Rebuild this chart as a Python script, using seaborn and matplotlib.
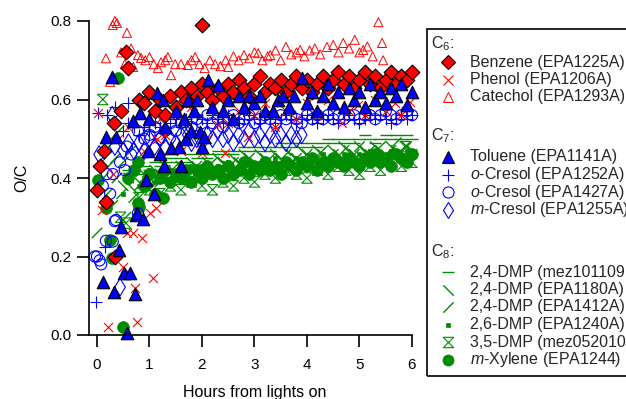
import matplotlib
matplotlib.use("Agg")
import matplotlib.pyplot as plt
from matplotlib.path import Path
from matplotlib.lines import Line2D
from matplotlib.patches import Rectangle
import pandas as pd
import seaborn as sns

# ---- data (hours from lights on, O/C) ----

benzene_t = [0.0, 0.05, 0.13, 0.18, 0.33, 0.34, 0.45, 0.55, 0.6,
             0.8, 0.9, 1.0, 1.1, 1.2, 1.3, 1.4, 1.5, 1.6, 1.7, 1.8, 1.9,
             2.0, 2.1, 2.2, 2.3, 2.4, 2.5, 2.6, 2.7, 2.8, 2.9,
             3.0, 3.1, 3.2, 3.3, 3.4, 3.5, 3.6, 3.7, 3.8, 3.9,
             4.0, 4.1, 4.2, 4.3, 4.4, 4.5, 4.6, 4.7, 4.8, 4.9,
             5.0, 5.1, 5.2, 5.3, 5.4, 5.5, 5.6, 5.7, 5.8, 5.9, 6.0, 2.0]
benzene_oc = [0.37, 0.43, 0.47, 0.34, 0.54, 0.20, 0.57, 0.72, 0.68,
              0.60, 0.59, 0.62, 0.57, 0.60, 0.56, 0.61, 0.58, 0.62, 0.60, 0.63, 0.61,
              0.64, 0.62, 0.60, 0.63, 0.61, 0.64, 0.62, 0.65, 0.63, 0.61,
              0.64, 0.66, 0.62, 0.64, 0.63, 0.65, 0.62, 0.64, 0.66, 0.63,
              0.65, 0.62, 0.64, 0.66, 0.63, 0.65, 0.67, 0.64, 0.66, 0.63,
              0.65, 0.67, 0.64, 0.66, 0.63, 0.65, 0.67, 0.64, 0.66, 0.65, 0.67, 0.79]

phenol_t = [0.02, 0.1, 0.21, 0.3, 0.4, 0.5, 0.57, 0.6, 0.69, 0.72, 0.76, 0.85, 0.9,
            1.01, 1.07, 1.12, 1.14, 1.2, 1.3, 1.5, 1.6, 1.8, 2.0, 2.1, 2.3, 2.44,
            2.5, 2.7, 2.88, 3.0, 3.2, 3.4, 3.6, 3.8, 4.0, 4.2, 4.4, 4.67, 4.8,
            4.97, 5.1, 5.3, 5.5, 5.68, 5.8, 5.96]
phenol_oc = [0.565, 0.318, 0.02, 0.41, 0.50, 0.173, 0.26, 0.53, 0.26, 0.12, 0.033, 0.247, 0.47,
             0.31, 0.145, 0.323, 0.50, 0.55, 0.51, 0.56, 0.47, 0.58, 0.464, 0.50, 0.535, 0.464,
             0.54, 0.57, 0.505, 0.56, 0.59, 0.53, 0.57, 0.55, 0.59, 0.56, 0.60, 0.54, 0.57,
             0.585, 0.56, 0.60, 0.57, 0.59, 0.56, 0.594]

catechol_t = [0.17, 0.25, 0.30, 0.34, 0.38, 0.46, 0.53, 0.57, 0.65, 0.69, 0.78, 0.84, 0.92,
              1.0, 1.08, 1.16, 1.22, 1.3, 1.35, 1.41, 1.49, 1.6, 1.73, 1.8, 1.87, 1.95,
              2.05, 2.15, 2.25, 2.35, 2.45, 2.5, 2.6, 2.7, 2.8, 2.9, 3.0, 3.07, 3.15,
              3.25, 3.3, 3.4, 3.5, 3.6, 3.7, 3.8, 3.87, 3.95, 4.05, 4.15, 4.25, 4.38,
              4.5, 4.6, 4.69, 4.8, 4.91, 5.0, 5.07, 5.15, 5.25, 5.36, 5.43, 5.45]
catechol_oc = [0.705, 0.645, 0.79, 0.80, 0.795, 0.72, 0.69, 0.77, 0.73, 0.683, 0.713, 0.706, 0.70,
               0.708, 0.69, 0.68, 0.695, 0.70, 0.708, 0.662, 0.69, 0.69, 0.688, 0.70, 0.708, 0.69,
               0.68, 0.70, 0.69, 0.685, 0.70, 0.683, 0.71, 0.70, 0.713, 0.705, 0.72, 0.718, 0.70,
               0.71, 0.713, 0.725, 0.70, 0.734, 0.715, 0.72, 0.726, 0.71, 0.725, 0.73, 0.715, 0.734,
               0.739, 0.72, 0.744, 0.73, 0.752, 0.72, 0.726, 0.735, 0.71, 0.797, 0.744, 0.70]

toluene_t = [0.11, 0.17, 0.28, 0.32, 0.36, 0.42, 0.46, 0.51, 0.57, 0.63, 0.69, 0.72, 0.74,
             0.77, 0.82, 0.87, 0.93, 0.97, 1.0, 1.09, 1.14, 1.2, 1.26, 1.28, 1.3, 1.41,
             1.5, 1.56, 1.6, 1.65, 1.7, 1.73, 1.8, 1.85, 1.9, 1.96, 2.0, 2.04, 2.12,
             2.2, 2.3, 2.4, 2.5, 2.6, 2.7, 2.8, 2.9, 3.0, 3.1, 3.2, 3.35, 3.45, 3.54,
             3.65, 3.75, 3.9, 4.0, 4.1, 4.2, 4.3, 4.4, 4.5, 4.6, 4.7, 4.8, 4.9, 5.0,
             5.1, 5.2, 5.3, 5.4, 5.5, 5.6, 5.7, 5.8, 5.9, 6.0]
toluene_oc = [0.135, 0.505, 0.657, 0.11, 0.505, 0.217, 0.275, 0.158, 0.005, 0.158, 0.545, 0.105, 0.306,
              0.31, 0.565, 0.295, 0.395, 0.47, 0.55, 0.36, 0.616, 0.46, 0.60, 0.43, 0.53, 0.476,
              0.57, 0.48, 0.43, 0.55, 0.50, 0.60, 0.52, 0.57, 0.60, 0.517, 0.48, 0.505, 0.65,
              0.58, 0.637, 0.57, 0.60, 0.55, 0.61, 0.58, 0.61, 0.59, 0.61, 0.57, 0.57, 0.60, 0.61,
              0.58, 0.61, 0.655, 0.59, 0.62, 0.57, 0.61, 0.64, 0.59, 0.62, 0.58, 0.63, 0.60, 0.62,
              0.58, 0.64, 0.60, 0.62, 0.59, 0.63, 0.61, 0.64, 0.585, 0.62]

ocresol1252_t = [-0.01, 0.02, 0.15, 0.2, 0.35, 0.59,
                 0.5, 0.6, 0.7, 0.8, 0.9, 1.0, 1.1, 1.2, 1.3, 1.4, 1.5, 1.6, 1.7, 1.8, 1.9,
                 2.0, 2.1, 2.2, 2.3, 2.4, 2.5, 2.6, 2.7, 2.8, 2.9,
                 3.0, 3.1, 3.2, 3.3, 3.4, 3.5, 3.6, 3.7, 3.8, 3.9,
                 4.0, 4.1, 4.2, 4.3, 4.4, 4.5, 4.6, 4.7, 4.8, 4.9,
                 5.0, 5.1, 5.2, 5.3, 5.4, 5.5, 5.6, 5.7, 5.8, 5.9, 6.0]
ocresol1252_oc = [0.083, 0.565, 0.225, 0.56, 0.58, 0.59,
                  0.52, 0.54, 0.53, 0.51, 0.53, 0.52, 0.54, 0.53, 0.55, 0.54, 0.55, 0.53, 0.55, 0.54, 0.56,
                  0.55, 0.54, 0.56, 0.55, 0.54, 0.56, 0.55, 0.54, 0.55, 0.56,
                  0.55, 0.54, 0.56, 0.55, 0.54, 0.55, 0.56, 0.55, 0.54, 0.55,
                  0.56, 0.55, 0.54, 0.55, 0.56, 0.55, 0.54, 0.55, 0.56, 0.55,
                  0.54, 0.55, 0.56, 0.55, 0.56, 0.55, 0.54, 0.55, 0.56, 0.55, 0.56]

ocresol1427_t = [-0.04, 0.0, 0.05, 0.08, 0.11, 0.17, 0.19, 0.25, 0.3, 0.3, 0.34, 0.36,
                 0.44, 0.53, 0.57, 0.65, 0.78, 0.78,
                 0.9, 1.0, 1.1, 1.2, 1.3, 1.4, 1.5, 1.6, 1.7, 1.8, 1.9,
                 2.0, 2.1, 2.2, 2.3, 2.4, 2.5, 2.6, 2.7, 2.8, 2.9,
                 3.0, 3.1, 3.2, 3.3, 3.4, 3.5, 3.6, 3.7, 3.8, 3.9,
                 4.0, 4.1, 4.2, 4.3, 4.4, 4.5, 4.6, 4.7, 4.8, 4.9,
                 5.0, 5.1, 5.2, 5.3, 5.4, 5.5, 5.6, 5.7, 5.8, 5.9, 6.0]
ocresol1427_oc = [0.20, 0.20, 0.19, 0.18, 0.38, 0.24, 0.41, 0.36, 0.238, 0.41, 0.29, 0.293,
                  0.44, 0.42, 0.48, 0.46, 0.31, 0.52,
                  0.50, 0.51, 0.53, 0.50, 0.52, 0.54, 0.52, 0.54, 0.568, 0.53, 0.55,
                  0.54, 0.56, 0.54, 0.55, 0.53, 0.55, 0.56, 0.54, 0.55, 0.56,
                  0.54, 0.55, 0.56, 0.55, 0.54, 0.56, 0.55, 0.56, 0.55, 0.54,
                  0.56, 0.55, 0.56, 0.55, 0.56, 0.55, 0.56, 0.55, 0.56, 0.56,
                  0.55, 0.56, 0.56, 0.55, 0.56, 0.57, 0.56, 0.55, 0.56, 0.57, 0.56]

mcresol_t = [0.04, 0.29, 0.34, 0.44, 0.5, 0.6, 0.7, 0.8, 0.9, 1.0, 1.1, 1.2, 1.3, 1.4,
             1.5, 1.6, 1.73, 1.8, 1.9, 2.0, 2.1, 2.2, 2.3, 2.4, 2.5, 2.6, 2.7, 2.8,
             2.9, 3.0, 3.1, 3.2, 3.3, 3.4, 3.5, 3.6, 3.7, 3.8, 3.9]
mcresol_oc = [0.46, 0.56, 0.48, 0.122, 0.47, 0.49, 0.47, 0.49, 0.47, 0.50, 0.48, 0.50, 0.48, 0.50,
              0.49, 0.51, 0.51, 0.49, 0.50, 0.49, 0.51, 0.50, 0.52, 0.50, 0.51, 0.49, 0.51, 0.50,
              0.52, 0.50, 0.51, 0.49, 0.51, 0.50, 0.51, 0.49, 0.51, 0.50, 0.51]

dmp24_mez_t = [0.6, 0.7, 0.8, 0.9, 1.0, 1.1, 1.2, 1.3, 1.4, 1.5, 1.6, 1.7, 1.8, 1.9,
               2.0, 2.1, 2.2, 2.3, 2.4, 2.5, 2.6, 2.7, 2.8, 2.9,
               3.0, 3.1, 3.2, 3.3, 3.4, 3.5, 3.6, 3.7, 3.8, 3.9,
               4.0, 4.1, 4.2, 4.3, 4.4, 4.5, 4.6, 4.7, 4.8, 4.9,
               5.0, 5.1, 5.2, 5.3, 5.4, 5.5, 5.6, 5.7, 5.8, 5.9, 6.0]
dmp24_mez_oc = [0.42, 0.43, 0.41, 0.43, 0.42, 0.44, 0.43, 0.44, 0.45, 0.44, 0.45, 0.44, 0.46, 0.45,
                0.46, 0.45, 0.46, 0.47, 0.46, 0.47, 0.46, 0.47, 0.48, 0.47,
                0.48, 0.47, 0.48, 0.47, 0.48, 0.49, 0.48, 0.49, 0.48, 0.49,
                0.48, 0.49, 0.48, 0.49, 0.50, 0.49, 0.50, 0.49, 0.50, 0.49,
                0.50, 0.51, 0.50, 0.49, 0.50, 0.51, 0.50, 0.51, 0.50, 0.51, 0.50]

dmp24_1180_t = [0.5, 0.6, 0.7, 0.8, 0.9, 1.0, 1.1, 1.2, 1.3, 1.4, 1.5, 1.6, 1.7, 1.8, 1.9,
                2.0, 2.1, 2.2, 2.3, 2.4, 2.5, 2.6, 2.7, 2.8, 2.9,
                3.0, 3.1, 3.2, 3.3, 3.4, 3.5, 3.6, 3.7, 3.8, 3.9,
                4.0, 4.1, 4.2, 4.3, 4.4, 4.5, 4.6, 4.7, 4.8, 4.9,
                5.0, 5.1, 5.2, 5.3, 5.4, 5.5, 5.6, 5.7, 5.8, 5.9, 6.0]
dmp24_1180_oc = [0.38, 0.40, 0.37, 0.39, 0.41, 0.40, 0.42, 0.41, 0.43, 0.42, 0.41, 0.43, 0.42, 0.44, 0.43,
                 0.42, 0.44, 0.43, 0.45, 0.44, 0.43, 0.45, 0.44, 0.46, 0.45,
                 0.44, 0.46, 0.45, 0.44, 0.46, 0.45, 0.47, 0.46, 0.45, 0.47,
                 0.46, 0.45, 0.47, 0.46, 0.45, 0.47, 0.46, 0.48, 0.47, 0.46,
                 0.48, 0.47, 0.46, 0.48, 0.47, 0.46, 0.48, 0.47, 0.46, 0.48, 0.47]

dmp24_1412_t = [0.0, 0.03, 0.08, 0.12, 0.15, 0.2, 0.22, 0.27, 0.3, 0.35, 0.38, 0.42, 0.47,
                0.5, 0.55, 0.6, 0.65, 0.7, 0.75, 0.8,
                0.9, 1.0, 1.1, 1.2, 1.3, 1.4, 1.5, 1.6, 1.7, 1.8, 1.9,
                2.0, 2.1, 2.2, 2.3, 2.4, 2.5, 2.6, 2.7, 2.8, 2.9,
                3.0, 3.1, 3.2, 3.3, 3.4, 3.5, 3.6, 3.7, 3.8, 3.9,
                4.0, 4.1, 4.2, 4.3, 4.4, 4.5, 4.6, 4.7, 4.8, 4.9,
                5.0, 5.1, 5.2, 5.3, 5.4, 5.5, 5.6, 5.7, 5.8, 5.9, 6.0]
dmp24_1412_oc = [0.26, 0.38, 0.44, 0.40, 0.47, 0.36, 0.43, 0.50, 0.33, 0.45, 0.40, 0.52, 0.36,
                 0.44, 0.30, 0.41, 0.47, 0.35, 0.43, 0.38,
                 0.40, 0.38, 0.41, 0.39, 0.42, 0.40, 0.43, 0.41, 0.42, 0.40, 0.43,
                 0.41, 0.42, 0.44, 0.42, 0.43, 0.41, 0.44, 0.42, 0.43, 0.45,
                 0.43, 0.44, 0.42, 0.45, 0.43, 0.44, 0.46, 0.44, 0.45, 0.43,
                 0.46, 0.44, 0.45, 0.47, 0.45, 0.46, 0.44, 0.47, 0.45, 0.46,
                 0.48, 0.46, 0.47, 0.45, 0.48, 0.46, 0.47, 0.49, 0.47, 0.48, 0.46]

dmp26_t = [0.5, 0.6, 0.7, 0.8, 0.9, 1.0, 1.1, 1.2, 1.3, 1.4, 1.5, 1.6, 1.7, 1.8, 1.9,
           2.0, 2.1, 2.2, 2.3, 2.4, 2.5, 2.6, 2.7, 2.8, 2.9,
           3.0, 3.1, 3.2, 3.3, 3.4, 3.5, 3.6, 3.7, 3.8, 3.9,
           4.0, 4.1, 4.2, 4.3, 4.4, 4.5, 4.6, 4.7, 4.8, 4.9,
           5.0, 5.1, 5.2, 5.3, 5.4, 5.5, 5.6, 5.7, 5.8, 5.9, 6.0]
dmp26_oc = [0.36, 0.39, 0.41, 0.38, 0.40, 0.42, 0.39, 0.41, 0.40, 0.42, 0.40, 0.42, 0.41, 0.43, 0.41,
            0.43, 0.42, 0.41, 0.43, 0.42, 0.44, 0.42, 0.43, 0.42, 0.44,
            0.43, 0.42, 0.44, 0.43, 0.45, 0.43, 0.44, 0.43, 0.45, 0.44,
            0.43, 0.45, 0.44, 0.46, 0.44, 0.45, 0.44, 0.46, 0.45, 0.44,
            0.46, 0.45, 0.47, 0.45, 0.46, 0.45, 0.47, 0.46, 0.45, 0.47, 0.46]

dmp35_t = [0.11, 0.45, 0.55, 0.8, 1.0, 1.2, 1.4, 1.6, 1.8, 2.0, 2.2, 2.4, 2.6, 2.8,
           3.0, 3.2, 3.4, 3.6, 3.8, 4.0, 4.2, 4.4, 4.6, 4.8, 5.0, 5.2, 5.4, 5.6, 5.8,
           5.87, 6.0]
dmp35_oc = [0.60, 0.30, 0.285, 0.35, 0.37, 0.36, 0.38, 0.37, 0.39, 0.38, 0.37, 0.39, 0.38, 0.40,
            0.39, 0.41, 0.40, 0.42, 0.41, 0.40, 0.42, 0.41, 0.43, 0.42, 0.41, 0.43, 0.42, 0.44, 0.43,
            0.48, 0.44]

mxylene_t = [0.02, 0.17, 0.24, 0.29, 0.4, 0.5, 0.78, 0.78, 0.8, 1.26,
             0.6, 0.7, 0.9, 1.0, 1.1, 1.2, 1.3, 1.4, 1.5, 1.6, 1.7, 1.8, 1.9,
             2.0, 2.1, 2.2, 2.3, 2.4, 2.5, 2.6, 2.7, 2.8, 2.9,
             3.0, 3.1, 3.2, 3.3, 3.4, 3.5, 3.6, 3.7, 3.8, 3.9,
             4.0, 4.1, 4.2, 4.3, 4.4, 4.5, 4.6, 4.7, 4.8, 4.9,
             5.0, 5.1, 5.2, 5.3, 5.4, 5.5, 5.6, 5.7, 5.8, 5.9, 6.0]
mxylene_oc = [0.395, 0.323, 0.242, 0.196, 0.655, 0.02, 0.336, 0.44, 0.326, 0.35,
              0.40, 0.42, 0.38, 0.41, 0.36, 0.40, 0.42, 0.39, 0.41, 0.40, 0.42, 0.39, 0.42,
              0.40, 0.43, 0.41, 0.42, 0.40, 0.43, 0.41, 0.42, 0.44, 0.41,
              0.43, 0.42, 0.44, 0.42, 0.43, 0.41, 0.44, 0.43, 0.42, 0.44,
              0.43, 0.45, 0.42, 0.44, 0.43, 0.45, 0.44, 0.43, 0.45, 0.44,
              0.43, 0.45, 0.44, 0.46, 0.44, 0.45, 0.43, 0.46, 0.45, 0.44, 0.46]

# ---- marker styles ----
backslash = Path([(-1, 1), (1, -1)], [Path.MOVETO, Path.LINETO])
slash = Path([(-1, -1), (1, 1)], [Path.MOVETO, Path.LINETO])
hourglass = Path([(-1, 1), (1, 1), (-1, -1), (1, -1), (-1, 1)],
                 [Path.MOVETO, Path.LINETO, Path.LINETO, Path.LINETO, Path.CLOSEPOLY])

red, blue, green = "#ff0000", "#0000ff", "#008c00"

# name: (t, oc, marker, size(pt), face, edge, linewidth, legend label)
series = {
    "m-Xylene": (mxylene_t, mxylene_oc, "o", 8.5, green, green, 0.5, r"$\mathit{m}$-Xylene (EPA1244)"),
    "2,6-DMP": (dmp26_t, dmp26_oc, "s", 3.0, green, green, 0.5, "2,6-DMP (EPA1240A)"),
    "3,5-DMP": (dmp35_t, dmp35_oc, hourglass, 7.5, "none", green, 0.8, "3,5-DMP (mez052010"),
    "2,4-DMP mez": (dmp24_mez_t, dmp24_mez_oc, "_", 8.0, green, green, 1.0, "2,4-DMP (mez101109"),
    "2,4-DMP 1180": (dmp24_1180_t, dmp24_1180_oc, backslash, 7.5, "none", green, 1.0, "2,4-DMP (EPA1180A)"),
    "2,4-DMP 1412": (dmp24_1412_t, dmp24_1412_oc, slash, 7.5, "none", green, 1.0, "2,4-DMP (EPA1412A)"),
    "o-Cresol 1427": (ocresol1427_t, ocresol1427_oc, "o", 8.0, "none", blue, 0.8, r"$\mathit{o}$-Cresol (EPA1427A)"),
    "o-Cresol 1252": (ocresol1252_t, ocresol1252_oc, "+", 8.0, blue, blue, 0.8, r"$\mathit{o}$-Cresol (EPA1252A)"),
    "m-Cresol": (mcresol_t, mcresol_oc, "d", 9.0, "none", blue, 0.8, r"$\mathit{m}$-Cresol (EPA1255A)"),
    "Phenol": (phenol_t, phenol_oc, "x", 6.5, red, red, 0.8, "Phenol (EPA1206A)"),
    "Catechol": (catechol_t, catechol_oc, "^", 6.5, "none", red, 0.7, "Catechol (EPA1293A)"),
    "Benzene": (benzene_t, benzene_oc, "D", 7.5, red, "black", 0.8, "Benzene (EPA1225A)"),
    "Toluene": (toluene_t, toluene_oc, "^", 9.0, blue, "black", 0.8, "Toluene (EPA1141A)"),
}

sns.set_style("ticks")
plt.rcParams["font.family"] = ["Liberation Sans", "DejaVu Sans"]
plt.rcParams["mathtext.fontset"] = "custom"
plt.rcParams["mathtext.rm"] = "Liberation Sans"
plt.rcParams["mathtext.it"] = "Liberation Sans:italic"

fig = plt.figure(figsize=(6.26, 3.99), dpi=100)
ax = fig.add_axes([89 / 626, 64 / 399, 323 / 626, 314 / 399])

for name, (t, oc, mk, ms, fc, ec, lw, lab) in series.items():
    df = pd.DataFrame({"t": t, "oc": oc})
    sns.scatterplot(data=df, x="t", y="oc", ax=ax, marker=mk, s=ms ** 2,
                    color=ec, facecolor=fc, edgecolor=ec, linewidth=lw,
                    clip_on=False, legend=False)

ax.set_xlim(-0.152, 6.0)
ax.set_ylim(0, 0.8)
ax.set_xticks([0, 1, 2, 3, 4, 5, 6])
ax.set_yticks([0.0, 0.2, 0.4, 0.6, 0.8])
ax.set_yticklabels(["0.0", "0.2", "0.4", "0.6", "0.8"])
sns.despine(ax=ax)
for sp in ["left", "bottom"]:
    ax.spines[sp].set_linewidth(1.2)
    ax.spines[sp].set_color("black")
ax.tick_params(axis="both", direction="out", length=8.5, width=1.2, color="black",
               labelsize=11, labelcolor="black")
ax.tick_params(axis="y", pad=4)
ax.tick_params(axis="x", pad=8)
ax.set_xlabel("Hours from lights on", fontsize=11.5, color="black")
ax.set_ylabel("O/C", fontsize=11.5, color="black")
ax.xaxis.set_label_coords(0.512, -0.158)
ax.yaxis.set_label_coords(-0.186, 0.5)

# ---- legend box, drawn in figure pixels ----
def fx(px):
    return px / 626

def fy(py):
    return 1 - py / 399

fig.add_artist(Rectangle((fx(427), fy(376)), 0.5, fy(29) - fy(376),
                         transform=fig.transFigure, fill=False,
                         edgecolor="black", linewidth=1.2))

headings = [(r"$\mathregular{C_6}$:", 44), (r"$\mathregular{C_7}$:", 136), (r"$\mathregular{C_8}$:", 252)]
for txt, py in headings:
    fig.text(fx(431), fy(py), txt, fontsize=11.5, va="center", ha="left")

legend_rows = [("Benzene", 62), ("Phenol", 79.5), ("Catechol", 97),
               ("Toluene", 157), ("o-Cresol 1252", 174.5), ("o-Cresol 1427", 192), ("m-Cresol", 209.5),
               ("2,4-DMP mez", 272), ("2,4-DMP 1180", 289.5), ("2,4-DMP 1412", 307),
               ("2,6-DMP", 324.5), ("3,5-DMP", 342), ("m-Xylene", 359.5)]
for name, py in legend_rows:
    t, oc, mk, ms, fc, ec, lw, lab = series[name]
    fig.add_artist(Line2D([fx(448)], [fy(py)], transform=fig.transFigure,
                          marker=mk, markersize=min(ms, 8.0), markerfacecolor=fc,
                          markeredgecolor=ec, markeredgewidth=lw, linestyle="none"))
    fig.text(fx(470), fy(py), lab, fontsize=11.5, va="center", ha="left")

fig.savefig("out.png", dpi=100)
